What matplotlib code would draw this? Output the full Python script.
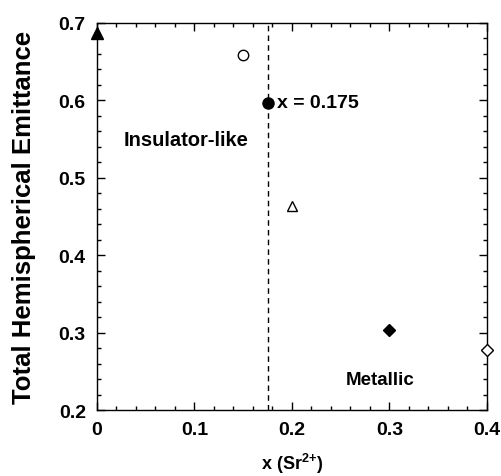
import matplotlib.pyplot as plt
from matplotlib.ticker import MultipleLocator

plt.rcParams['font.family'] = ['Liberation Sans', 'DejaVu Sans']
plt.rcParams['mathtext.fontset'] = 'custom'
plt.rcParams['mathtext.bf'] = 'Liberation Sans:bold'
plt.rcParams['mathtext.rm'] = 'Liberation Sans:bold'

# emittance vs Sr content
sr_x = [0.0, 0.15, 0.175, 0.2, 0.3, 0.4]
emittance = [0.687, 0.659, 0.597, 0.464, 0.303, 0.278]
markers = ['^', 'o', 'o', '^', 'D', 'D']
filled = [True, False, True, False, True, False]
sizes = [8, 7.5, 8, 7.5, 6, 6]

fig = plt.figure(figsize=(5.02, 4.77), dpi=100)
ax = fig.add_axes([0.193, 0.138, 0.777, 0.812])

for x, y, m, f, s in zip(sr_x, emittance, markers, filled, sizes):
    ax.plot(x, y, marker=m, markersize=s, linestyle='none',
            markerfacecolor='black' if f else 'white',
            markeredgecolor='black', markeredgewidth=1.0,
            clip_on=False, zorder=5)

# metal-insulator boundary
ax.axvline(0.175, color='black', linestyle=(0, (4, 3)), linewidth=1.0, zorder=1)

ax.text(0.185, 0.597, 'x = 0.175', fontsize=14, fontweight='bold', va='center')
ax.text(0.027, 0.55, 'Insulator-like', fontsize=14.5, fontweight='bold', va='center')
ax.text(0.255, 0.239, 'Metallic', fontsize=13.5, fontweight='bold', va='center')

ax.set_xlim(0, 0.4)
ax.set_ylim(0.2, 0.7)
ax.xaxis.set_minor_locator(MultipleLocator(0.02))
ax.yaxis.set_minor_locator(MultipleLocator(0.02))
ax.set_xticks([0, 0.1, 0.2, 0.3, 0.4])
ax.set_xticklabels(['0', '0.1', '0.2', '0.3', '0.4'])
ax.set_yticks([0.2, 0.3, 0.4, 0.5, 0.6, 0.7])
ax.set_yticklabels(['0.2', '0.3', '0.4', '0.5', '0.6', '0.7'])

ax.tick_params(which='both', direction='in', top=True, right=True, width=1.0)
ax.tick_params(which='major', length=6, labelsize=14, pad=8)
ax.tick_params(which='minor', length=3)
for lab in ax.get_xticklabels() + ax.get_yticklabels():
    lab.set_fontweight('bold')
for sp in ax.spines.values():
    sp.set_linewidth(1.0)

ax.set_xlabel('x (Sr$^{2{+}}$)', fontsize=13, fontweight='bold', labelpad=9)
ax.set_ylabel('Total Hemispherical Emittance', fontsize=18.5, fontweight='bold', labelpad=16)

fig.savefig('out.png', dpi=100)
